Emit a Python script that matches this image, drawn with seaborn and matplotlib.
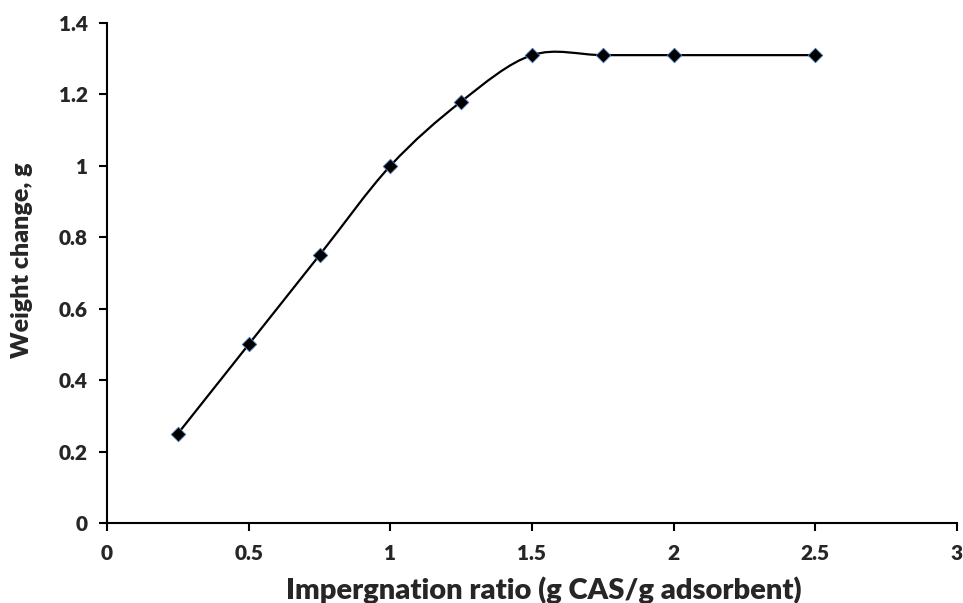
import numpy as np
import pandas as pd
import matplotlib
matplotlib.use("Agg")
import matplotlib.pyplot as plt
from matplotlib.path import Path
from matplotlib.patches import PathPatch
import seaborn as sns

ratio = [0.25, 0.5, 0.75, 1.0, 1.25, 1.5, 1.75, 2.0, 2.5]
weight = [0.25, 0.5, 0.75, 1.0, 1.18, 1.31, 1.31, 1.31, 1.31]
x_ticks = [0, 0.5, 1, 1.5, 2, 2.5, 3]
x_tick_labels = ["0", "0.5", "1", "1.5", "2", "2.5", "3"]
y_ticks = [0, 0.2, 0.4, 0.6, 0.8, 1.0, 1.2, 1.4]
y_tick_labels = ["0", "0.2", "0.4", "0.6", "0.8", "1", "1.2", "1.4"]
x_label = "Impergnation ratio (g CAS/g adsorbent)"
y_label = "Weight change, g"

sns.set_theme(style="white")
plt.rcParams["font.family"] = ["Lato", "DejaVu Sans"]

df = pd.DataFrame({"ratio": ratio, "weight": weight})

fig = plt.figure(figsize=(9.63, 6.03), dpi=100)
ax = fig.add_axes([107/963, 1-523/603, (957-107)/963, (523-23)/603])

# smooth (Excel-style Bezier) connecting line built from the data points
pts = np.column_stack([ratio, weight])
n = len(pts)
verts = [tuple(pts[0])]
codes = [Path.MOVETO]
for i in range(n - 1):
    p0 = pts[i - 1] if i > 0 else pts[i]
    p1 = pts[i]
    p2 = pts[i + 1]
    p3 = pts[i + 2] if i + 2 < n else pts[i + 1]
    c1 = p1 + (p2 - p0) / 6.0
    c2 = p2 - (p3 - p1) / 6.0
    verts += [tuple(c1), tuple(c2), tuple(p2)]
    codes += [Path.CURVE4] * 3
ax.add_patch(PathPatch(Path(verts, codes), fill=False, edgecolor="black", lw=1.6, zorder=2))

sns.scatterplot(data=df, x="ratio", y="weight", marker="D", s=55, color="black",
                edgecolor="#4a78b8", linewidth=0.6, ax=ax, zorder=3)

ax.set_xlim(0, 3)
ax.set_ylim(0, 1.4)
ax.set_xticks(x_ticks)
ax.set_xticklabels(x_tick_labels, fontsize=15, fontweight="heavy")
ax.set_yticks(y_ticks)
ax.set_yticklabels(y_tick_labels, fontsize=15, fontweight="heavy")
ax.set_xlabel(x_label, fontsize=21, fontweight="heavy", va="center")
ax.set_ylabel(y_label, fontsize=18, fontweight="heavy", va="center")
ax.xaxis.set_label_coords((544 - 107) / 850, -(590 - 523) / 500)
ax.yaxis.set_label_coords((22 - 107) / 850, (523 - 260) / 500)
for s in ["top", "right"]:
    ax.spines[s].set_visible(False)
for s in ["left", "bottom"]:
    ax.spines[s].set_color("black")
    ax.spines[s].set_linewidth(1.5)
ax.tick_params(axis="both", direction="out", length=6, width=1.5, color="black",
               left=True, bottom=True)
ax.tick_params(axis="x", pad=9)
ax.tick_params(axis="y", pad=8)
ax.grid(False)

fig.savefig("out.png", dpi=100)
